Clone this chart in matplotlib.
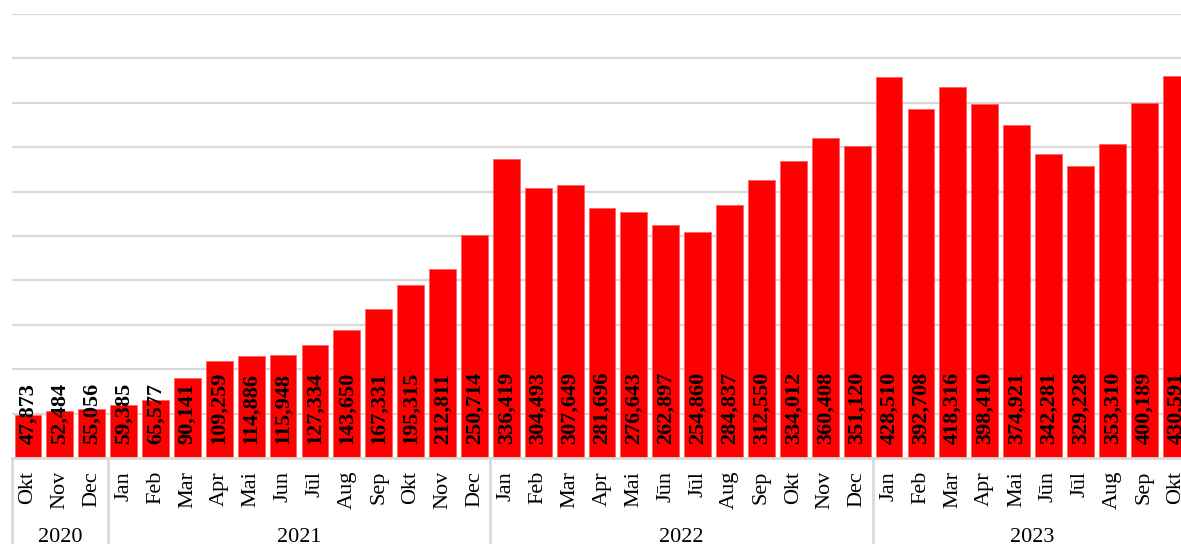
import matplotlib
matplotlib.use("Agg")
import matplotlib.pyplot as plt

months = ["Okt", "Nov", "Dec",
          "Jan", "Feb", "Mar", "Apr", "Mai", "Jun", "Jūl", "Aug", "Sep", "Okt", "Nov", "Dec",
          "Jan", "Feb", "Mar", "Apr", "Mai", "Jūn", "Jūl", "Aug", "Sep", "Okt", "Nov", "Dec",
          "Jan", "Feb", "Mar", "Apr", "Mai", "Jūn", "Jūl", "Aug", "Sep", "Okt"]
values = [47873, 52484, 55056,
          59385, 65577, 90141, 109259, 114886, 115948, 127334, 143650, 167331, 195315, 212811, 250714,
          336419, 304493, 307649, 281696, 276643, 262897, 254860, 284837, 312550, 334012, 360408, 351120,
          428510, 392708, 418316, 398410, 374921, 342281, 329228, 353310, 400189, 430591]
years = ["2020", "2021", "2022", "2023"]
year_counts = [3, 12, 12, 10]

W, H = 1181, 544
fig = plt.figure(figsize=(W / 100, H / 100), dpi=100)
x0, x1 = 12, 1192
ytop, ybot = 14, 458
ax = fig.add_axes([x0 / W, (H - ybot) / H, (x1 - x0) / W, (ybot - ytop) / H])

serif = ["Liberation Serif", "DejaVu Serif"]
grid_c = "#d9d9d9"
n = len(values)
xs = list(range(n))
ax.bar(xs, values, width=0.84, color="#ff0000", edgecolor="#ff6060", linewidth=0.6, zorder=2)
ax.set_xlim(-0.5, n - 0.5)
ax.set_ylim(0, 500000)
for g in range(50000, 500001, 50000):
    ax.axhline(g, color=grid_c, lw=1.6, zorder=1)
for s in ax.spines.values():
    s.set_visible(False)
ax.axhline(0, color=grid_c, lw=2, zorder=3, clip_on=False)
ax.set_xticks([])
ax.set_yticks([])

for i, v in enumerate(values):
    ax.annotate(f"{v:,}", xy=(i, 0), xytext=(0, 14), textcoords="offset pixels",
                rotation=90, ha="center", va="bottom", fontsize=16, fontweight="bold",
                family=serif, color="black", zorder=5, annotation_clip=False)
    ax.annotate(months[i], xy=(i, 0), xytext=(0, -13), textcoords="offset pixels",
                rotation=90, ha="center", va="top", fontsize=16, family=serif,
                color="black", annotation_clip=False)

trans = ax.get_xaxis_transform()
depth = (H - ybot + 5) / (ybot - ytop)
start = -0.5
bounds = [start]
for c in year_counts:
    bounds.append(bounds[-1] + c)
for b in bounds:
    ax.plot([b, b], [0, -depth], color=grid_c, lw=2, transform=trans, clip_on=False)
for k, yl in enumerate(years):
    cx = (bounds[k] + bounds[k + 1]) / 2
    ax.annotate(yl, xy=(cx, 0), xycoords=trans, xytext=(0, -79), textcoords="offset pixels",
                ha="center", va="center", fontsize=16, family=serif, color="black",
                annotation_clip=False)

fig.savefig("out.png", dpi=100)
